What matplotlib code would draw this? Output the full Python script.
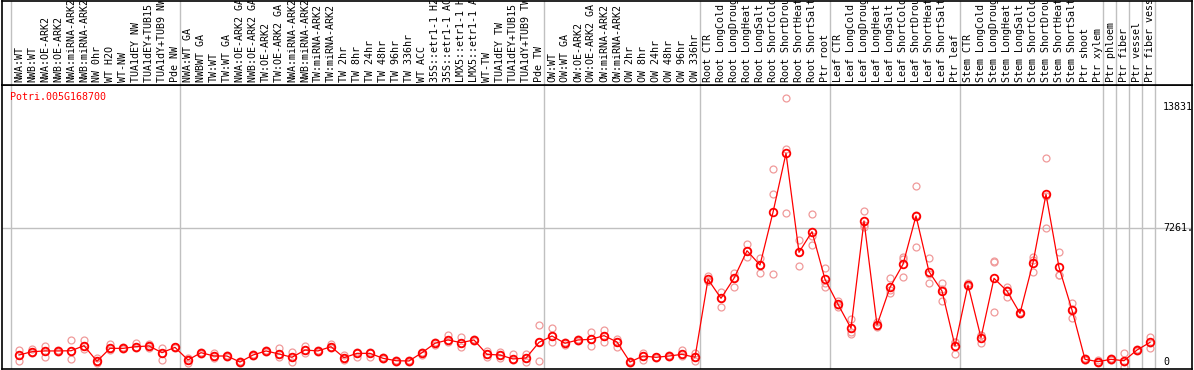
import numpy as np
import matplotlib
matplotlib.use("Agg")
import matplotlib.pyplot as plt

gene = "Potri.005G168700"

samples = [
    "NWA:WT", "NWB:WT", "NWA:OE-ARK2", "NWB:OE-ARK2", "NWA:miRNA-ARK2", "NWB:miRNA-ARK2",
    "NW 0hr", "WT H2O", "WT-NW", "TUA1dEY NW", "TUA1dEY+TUB15 NW", "TUA1dY+TUB9 NW", "Pde NW",
    "NWA:WT GA", "NWBWT GA", "TW:WT", "TW:WT GA", "NWA:OE-ARK2 GA", "NWB:OE-ARK2 GA",
    "TW:OE-ARK2", "TW:OE-ARK2 GA", "NWA:miRNA-ARK2", "NWB:miRNA-ARK2", "TW:miRNA-ARK2",
    "TW:miRNA-ARK2", "TW 2hr", "TW 8hr", "TW 24hr", "TW 48hr", "TW 96hr", "TW 336hr", "WT ACC",
    "35S::etr1-1 H2O", "35S::etr1-1 ACC", "LMX5::etr1-1 H2O", "LMX5::etr1-1 ACC", "WT-TW",
    "TUA1dEY TW", "TUA1dEY+TUB15 TW", "TUA1dY+TUB9 TW", "Pde TW",
    "OW:WT", "OW:WT GA", "OW:OE-ARK2", "OW:OE-ARK2 GA", "OW:miRNA-ARK2", "OW:miRNA-ARK2",
    "OW 2hr", "OW 8hr", "OW 24hr", "OW 48hr", "OW 96hr", "OW 336hr",
    "Root CTR", "Root LongCold", "Root LongDrought", "Root LongHeat", "Root LongSalt",
    "Root ShortCold", "Root ShortDrought", "Root ShortHeat", "Root ShortSalt", "Ptr root",
    "Leaf CTR", "Leaf LongCold", "Leaf LongDrought", "Leaf LongHeat", "Leaf LongSalt",
    "Leaf ShortCold", "Leaf ShortDrought", "Leaf ShortHeat", "Leaf ShortSalt", "Ptr leaf",
    "Stem CTR", "Stem LongCold", "Stem LongDrought", "Stem LongHeat", "Stem LongSalt",
    "Stem ShortCold", "Stem ShortDrought", "Stem ShortHeat", "Stem ShortSalt", "Ptr shoot",
    "Ptr xylem", "Ptr phloem", "Ptr fiber", "Ptr vessel", "Ptr fiber vessel",
]

# mean expression per sample
means = [
    380, 560, 600, 600, 610, 885, 40, 740, 740, 830, 870, 505, 795,
    110, 505, 325, 325, 0, 380, 600, 435, 255, 650, 600, 830, 235, 470, 470, 200, 70,
    55, 505, 1015, 1195, 1050, 1195, 415, 380, 165, 215, 1065,
    1410, 1015, 1195, 1230, 1430, 1085, 0, 325, 255, 325, 415, 255,
    4485, 3455, 4540, 6035, 5260, 8120, 11320, 5950, 7070, 4485,
    3130, 1830, 7650, 2005, 4050, 5300, 7920, 4900, 3850, 870,
    4175, 1320, 4540, 3850, 2640, 5385, 9095, 5135, 2820, 145,
    20, 145, 70, 650, 1065,
]

# replicates
rep_a = [
    650, 690, 880, 650, 1180, 1200, 200, 960, 790, 1050, 960, 740, 830,
    200, 560, 470, 380, 40, 430, 650, 740, 525, 880, 650, 960, 380, 560, 560, 250, 110,
    110, 560, 1100, 1465, 1340, 1250, 610, 560, 420, 420, 2010,
    1830, 1100, 1250, 1610, 1740, 1250, 40, 505, 290, 380, 650, 470,
    4665, 3815, 4845, 6400, 5625, 10450, 14300, 6620, 8010, 5080,
    3300, 2315, 8190, 2185, 4540, 5710, 9545, 5625, 4300, 1100,
    4300, 1465, 5480, 4085, 2700, 5710, 11050, 5950, 3215, 230,
    90, 200, 470, 700, 1375,
]
rep_b = [
    70, 470, 285, 560, 150, 690, -70, 650, 690, 740, 740, 110, 760,
    -70, 450, 200, 270, -40, 330, 540, 290, 20, 470, 560, 780, 110, 290, 290, 150, 20,
    20, 380, 920, 1100, 830, 1140, 290, 235, 110, 20, 70,
    1065, 920, 1140, 870, 1065, 830, -40, 110, 200, 270, 325, 55,
    4400, 3000, 4050, 5710, 4845, 4755, 8065, 5225, 6345, 4085,
    3000, 1520, 7340, 1900, 3725, 4625, 6220, 4300, 3310, 415,
    4100, 1015, 2695, 3540, 2580, 4900, 7250, 4720, 2370, 90,
    -50, 100, -255, 600, 775,
]
rep_c = [
    380, 560, 600, 600, 610, 885, 40, 740, 740, 830, 870, 505, 795,
    110, 505, 325, 325, 0, 380, 600, 435, 255, 650, 600, 830, 235, 470, 470, 200, 70,
    55, 505, 1015, 1195, 1050, 1195, 415, 380, 165, 215, 1065,
    1410, 1015, 1195, 1230, 1430, 1085, 0, 325, 255, 325, 415, 255,
    4390, 3455, 4540, 6035, 5260, 9095, 11550, 5950, 6850, 4290,
    3100, 1650, 7415, 1935, 3890, 5560, 7990, 4770, 3945, 1085,
    4125, 1485, 5445, 3925, 2640, 5550, 8985, 4740, 2875, 115,
    20, 135, 0, 650, 1050,
]

# first sample index of each group separator
separators = [0, 13, 41, 53, 63, 73, 84, 85, 86, 87, 88]
ref_lines = [7261]
value_labels = ["13831", "7261.", "0"]
value_pos = [13831, 7261, 0]

W, H = 1194, 370
fig = plt.figure(figsize=(W / 100, H / 100), dpi=100)
fig.patch.set_facecolor("white")
mono = "DejaVu Sans Mono"

# pixel geometry: sample i centred at x = 19 + 13 i
x_lo = (2 - 19) / 13
x_hi = (1192 - 19) / 13
k = 54.24  # value per pixel
y_lo = (362 - 369) * k
y_hi = (362 - 85) * k

ax = fig.add_axes([2 / W, 1 / H, 1190 / W, 284 / H])
ax_top = fig.add_axes([2 / W, 285 / H, 1190 / W, 84 / H])

x = np.arange(len(samples))

for a in (ax, ax_top):
    a.set_xlim(x_lo, x_hi)
    a.set_xticks([])
    a.set_yticks([])
    for s in a.spines.values():
        s.set_color("black")
        s.set_linewidth(1.2)
    for b in separators:
        a.axvline(b - 0.6, color="#c0c0c0", lw=1, zorder=0)

ax_top.set_ylim(0, 1)
ax.set_ylim(y_lo, y_hi)

for r in ref_lines:
    ax.axhline(r, color="#c0c0c0", lw=1, zorder=0)

for reps in (rep_a, rep_b, rep_c):
    ax.plot(x, reps, "o", ms=5, mfc="none", mec="#f09a9a", mew=0.9, zorder=2)

ax.plot(x, means, "-", color="red", lw=0.9, zorder=3)
ax.plot(x, means, "o", ms=5.5, mfc="none", mec="red", mew=1.3, zorder=4)

for lab, v in zip(value_labels, value_pos):
    ax.text(88.0, v, lab, ha="left", va="center", family=mono, fontsize=7.2,
            color="black", clip_on=True)

for i, lab in enumerate(samples):
    ax_top.text(i, 0.03, lab, rotation=90, ha="center", va="bottom",
                family=mono, fontsize=7.2, color="black", clip_on=True)

fig.text(10 / W, 1 - 97 / H, gene, ha="left", va="center", family=mono,
         fontsize=7.2, color="red")

fig.savefig("out.png", dpi=100, facecolor="white")
